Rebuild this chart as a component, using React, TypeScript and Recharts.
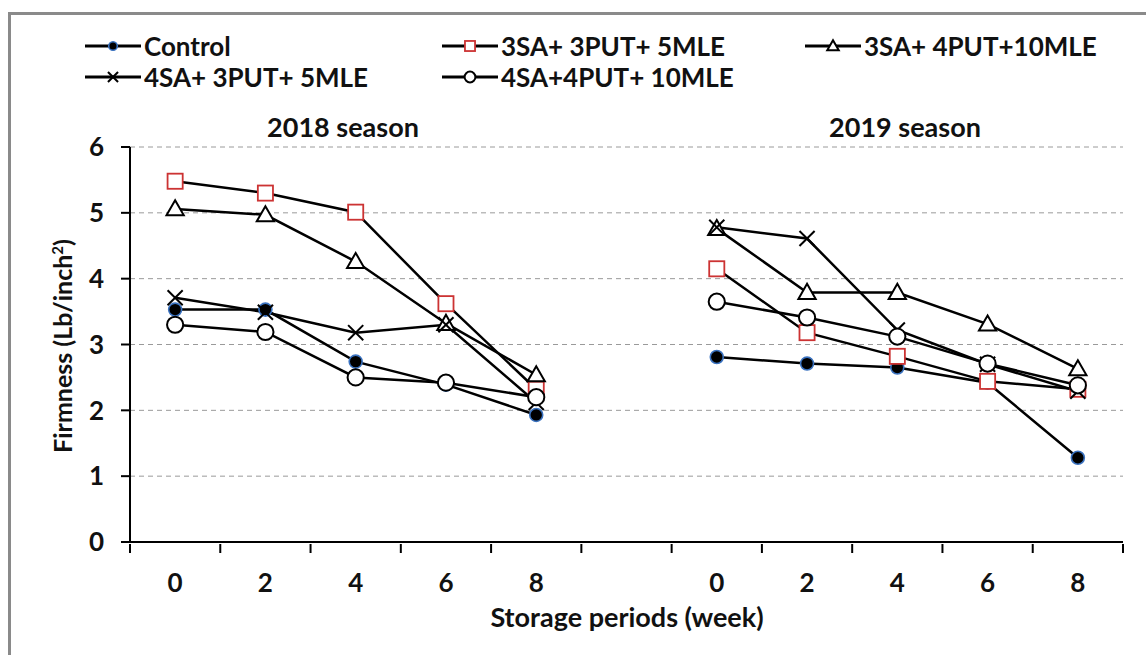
import React from 'react';
import { LineChart, Line, XAxis, YAxis, CartesianGrid } from 'recharts';

const weekLabels = ['0', '2', '4', '6', '8', '', '0', '2', '4', '6', '8'];

const seriesNames = [
  'Control',
  '3SA+ 3PUT+ 5MLE',
  '3SA+ 4PUT+10MLE',
  '4SA+ 3PUT+ 5MLE',
  '4SA+4PUT+ 10MLE',
];

const season2018 = [
  [3.53, 3.53, 2.74, 2.39, 1.93],
  [5.48, 5.3, 5.01, 3.62, 2.32],
  [5.06, 4.97, 4.26, 3.32, 2.54],
  [3.71, 3.49, 3.18, 3.3, 2.12],
  [3.3, 3.19, 2.5, 2.42, 2.2],
];

const season2019 = [
  [2.81, 2.71, 2.65, 2.42, 1.28],
  [4.15, 3.18, 2.82, 2.44, 2.32],
  [4.76, 3.79, 3.79, 3.31, 2.63],
  [4.78, 4.61, 3.22, 2.7, 2.29],
  [3.65, 3.41, 3.12, 2.71, 2.38],
];

const shapes = ['dot', 'square', 'triangle', 'cross', 'circle'];

const data = weekLabels.map((_, i) => {
  const row: Record<string, number | null> = { x: i + 0.5 };
  seriesNames.forEach((_, s) => {
    if (i < 5) row['s' + s] = season2018[s][i];
    else if (i === 5) row['s' + s] = null;
    else row['s' + s] = season2019[s][i - 6];
  });
  return row;
});

const xTicks = Array.from({ length: 23 }, (_, i) => i / 2);
const font = 'Lato, "Open Sans", sans-serif';

const Marker = ({ shape, cx, cy, small }: { shape: string; cx: number; cy: number; small?: boolean }) => {
  const k = small ? 0.72 : 1.08;
  if (shape === 'dot')
    return <circle cx={cx} cy={cy} r={6 * k} fill="#000" stroke="#3a72c0" strokeWidth={1.6} />;
  if (shape === 'square')
    return <rect x={cx - 7 * k} y={cy - 7 * k} width={14 * k} height={14 * k} fill="#fff" stroke="#cc3333" strokeWidth={1.8} />;
  if (shape === 'triangle')
    return (
      <polygon
        points={`${cx},${cy - 8 * k} ${cx + 8 * k},${cy + 6 * k} ${cx - 8 * k},${cy + 6 * k}`}
        fill="#fff"
        stroke="#000"
        strokeWidth={2}
      />
    );
  if (shape === 'cross')
    return (
      <g stroke="#000" strokeWidth={2}>
        <line x1={cx - 7 * k} y1={cy - 7 * k} x2={cx + 7 * k} y2={cy + 7 * k} />
        <line x1={cx - 7 * k} y1={cy + 7 * k} x2={cx + 7 * k} y2={cy - 7 * k} />
      </g>
    );
  return <circle cx={cx} cy={cy} r={7.5 * k} fill="#fff" stroke="#000" strokeWidth={2} />;
};

const makeDot = (shape: string) => (props: any) => {
  const { cx, cy, index } = props;
  if (cx == null || cy == null || props.value == null) return <g key={index} />;
  return (
    <g key={index}>
      <Marker shape={shape} cx={cx} cy={cy} />
    </g>
  );
};

const XTick = (props: any) => {
  const { x, y, payload } = props;
  const v = payload.value;
  if (Number.isInteger(v)) return <line x1={x} x2={x} y1={y} y2={y + 9} stroke="#000" strokeWidth={2} />;
  return (
    <text x={x} y={y + 48} textAnchor="middle" fontFamily={font} fontWeight={700} fontSize={26} fill="#111">
      {weekLabels[Math.floor(v)]}
    </text>
  );
};

const legendPos = [
  { left: 85, top: 46 },
  { left: 442, top: 46 },
  { left: 805, top: 46 },
  { left: 85, top: 77 },
  { left: 442, top: 77 },
];

const LegendItem = ({ i }: { i: number }) => (
  <div
    style={{
      position: 'absolute',
      left: legendPos[i].left,
      top: legendPos[i].top - 15,
      height: 30,
      display: 'flex',
      alignItems: 'center',
      whiteSpace: 'nowrap',
    }}
  >
    <svg width={58} height={30}>
      <line x1={0} y1={15} x2={56} y2={15} stroke="#000" strokeWidth={3} />
      <Marker shape={shapes[i]} cx={28} cy={15} small />
    </svg>
    <span style={{ fontFamily: font, fontWeight: 700, fontSize: 26, color: '#111', marginLeft: 1 }}>{seriesNames[i]}</span>
  </div>
);

const titleStyle: React.CSSProperties = {
  position: 'absolute',
  top: 110,
  fontFamily: font,
  fontWeight: 700,
  fontSize: 27,
  color: '#111',
  transform: 'translateX(-50%)',
  whiteSpace: 'nowrap',
};

export default function App() {
  return (
    <div style={{ position: 'absolute', left: 0, top: 0, width: 1146, height: 655, background: '#fff', overflow: 'hidden' }}>
      <div
        style={{
          position: 'absolute',
          left: 8,
          top: 12,
          width: 1200,
          height: 700,
          borderLeft: '3px solid #8a8a8a',
          borderTop: '3px solid #8a8a8a',
        }}
      />
      <LineChart width={1146} height={655} data={data} margin={{ top: 147, right: 23, bottom: 0, left: 0 }}>
        <CartesianGrid vertical={false} strokeDasharray="5 4" stroke="#9a9a9a" />
        <XAxis
          type="number"
          dataKey="x"
          domain={[0, 11]}
          ticks={xTicks}
          interval={0}
          tickSize={0}
          tickLine={false}
          tick={<XTick />}
          axisLine={{ stroke: '#000', strokeWidth: 2 }}
          height={113}
        />
        <YAxis
          domain={[0, 6]}
          ticks={[0, 1, 2, 3, 4, 5, 6]}
          width={130}
          tickSize={9}
          tickMargin={17}
          axisLine={{ stroke: '#000', strokeWidth: 2 }}
          tickLine={{ stroke: '#000', strokeWidth: 2 }}
          tick={{ fontFamily: font, fontWeight: 700, fontSize: 26, fill: '#111' }}
        />
        {seriesNames.map((name, s) => (
          <Line
            key={name}
            name={name}
            dataKey={'s' + s}
            stroke="#000"
            strokeWidth={2.5}
            dot={makeDot(shapes[s])}
            activeDot={false}
            isAnimationActive={false}
          />
        ))}
      </LineChart>
      {seriesNames.map((_, i) => (
        <LegendItem key={i} i={i} />
      ))}
      <div style={{ ...titleStyle, left: 343 }}>2018 season</div>
      <div style={{ ...titleStyle, left: 905 }}>2019 season</div>
      <div
        style={{
          position: 'absolute',
          left: 62,
          top: 346,
          transform: 'translate(-50%, -50%) rotate(-90deg)',
          fontFamily: font,
          fontWeight: 700,
          fontSize: 25,
          color: '#111',
          whiteSpace: 'nowrap',
        }}
      >
        Firmness (Lb/inch<sup style={{ fontSize: 15 }}>2</sup>)
      </div>
      <div
        style={{
          position: 'absolute',
          left: 627,
          top: 600,
          transform: 'translateX(-50%)',
          fontFamily: font,
          fontWeight: 700,
          fontSize: 27,
          color: '#111',
          whiteSpace: 'nowrap',
        }}
      >
        Storage periods (week)
      </div>
    </div>
  );
}
